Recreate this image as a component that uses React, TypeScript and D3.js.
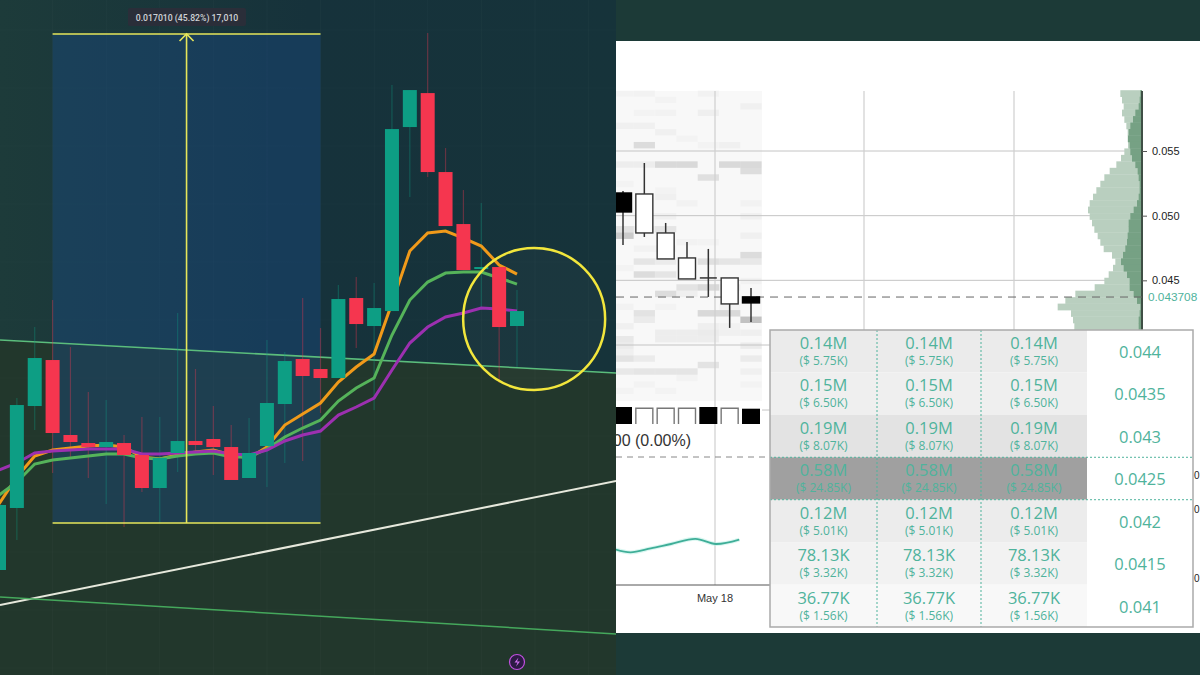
import React, { useEffect, useRef } from 'react';
import * as d3 from 'd3';

// left chart, candle values
const opens = [0.035485,0.037642,0.041189,0.042789,0.040181,0.039902,0.039763,0.039902,0.039485,0.038337,0.039555,0.039972,0.040042,0.039763,0.038685,0.039798,0.041259,0.042824,0.042476,0.042163,0.044946,0.043972,0.044493,0.050893,0.052075,0.049328,0.047519,0.045954,0.046024,0.043972];
const closes = [0.037746,0.041224,0.042859,0.040250,0.039937,0.039763,0.039937,0.039485,0.038337,0.039381,0.039972,0.039833,0.039763,0.038616,0.039555,0.041294,0.042754,0.042233,0.042163,0.044911,0.044041,0.044598,0.050823,0.052180,0.049328,0.047450,0.045919,0.046024,0.043937,0.044493];
const highs = [0.038268,0.041468,0.043937,0.044876,0.043241,0.041676,0.041398,0.040181,0.040807,0.040807,0.044424,0.042476,0.041189,0.040528,0.040772,0.043485,0.043067,0.044946,0.043902,0.045398,0.045676,0.045467,0.052354,0.052180,0.054162,0.050163,0.048702,0.048250,0.046024,0.045224];
const lows = [0.035451,0.036529,0.040355,0.038859,0.039416,0.038685,0.037781,0.036981,0.038198,0.037120,0.038894,0.039555,0.038789,0.038616,0.038685,0.038372,0.039207,0.039276,0.040946,0.042163,0.043207,0.041050,0.044493,0.048458,0.049154,0.047450,0.045919,0.044528,0.041989,0.042546];
const emaOrange = [0.037781,0.038720,0.039450,0.039659,0.039729,0.039798,0.039833,0.039763,0.039416,0.039346,0.039485,0.039589,0.039659,0.039485,0.039381,0.039763,0.040528,0.040911,0.041294,0.042024,0.042546,0.042998,0.044772,0.046580,0.047206,0.047276,0.047032,0.046754,0.046093,0.045780];
const emaGreen = [0.038094,0.038546,0.039172,0.039311,0.039381,0.039450,0.039520,0.039520,0.039381,0.039346,0.039450,0.039520,0.039555,0.039416,0.039416,0.039694,0.040111,0.040424,0.040702,0.041363,0.041815,0.042163,0.043659,0.044876,0.045502,0.045815,0.045850,0.045850,0.045641,0.045432];
const emaPurple = [0.038963,0.039207,0.039555,0.039624,0.039659,0.039694,0.039694,0.039694,0.039520,0.039520,0.039555,0.039589,0.039624,0.039520,0.039485,0.039659,0.039972,0.040181,0.040320,0.040876,0.041155,0.041468,0.042441,0.043380,0.043937,0.044285,0.044424,0.044598,0.044563,0.044493];

// drawn annotations, [candle index, price]
const trendChannel = [[0.056,0.043485],[34.55,0.042337]];
const trendWhite = [[0.056,0.034268],[34.55,0.038581]];
const trendLower = [[0.056,0.034546],[34.55,0.033260]];
const measureFrom = [3,0.03712];
const measureTo = [18,0.05413];
const measureLabel = '0.017010 (45.82%) 17,010';
const circleAt = [29.96,0.044215];

// right chart
const rOpens = [0.051754,0.048663,0.046654,0.045108,0.045185,0.043176,0.043253];
const rCloses = [0.050286,0.051677,0.048663,0.046731,0.045185,0.045185,0.043717];
const rHighs = [0.051909,0.054073,0.049436,0.047968,0.047427,0.045185,0.044413];
const rLows = [0.047736,0.048354,0.046654,0.045108,0.043717,0.041321,0.041785];
const rVolumes = [1,0.93,0.93,0.93,1,0.93,0.9];
const rDown = [true,false,false,false,true,false,true];
const oscillator = [0.2,-0.6,0.4,1.5,2.8,1.5,2.6];
const oscillatorPos = [-0.4,0.35,1.3,2.25,3.4,4.35,5.45];
const gridPrices = [0.055,0.05,0.045,0.04];
const axisTicks = [0.055,0.05,0.045];
const lastPrice = 0.043708;
const profileTotal = [65,60,55,60,53,47,43,43,42,53,63,77,97,113,125,137,147,157,162,157,150,143,133,125,115,90,80,87,100,113,142,200,230,253,213,207,203,203];
const profileBuy = [5,7,10,20,27,35,40,42,37,35,30,20,13,10,7,7,10,15,25,35,40,40,43,45,50,57,63,55,45,37,37,25,15,5,7,10,10,10];
// [column, row, shade]
const heatCells: number[][] = [
[1,8,.18],[0,11,.07],[1,11,.07],[2,11,.2],[3,11,.2],[5,11,.2],[6,11,.2],[6,12,.17],[4,13,.15],[0,21,.14],[0,22,.3],[1,21,.07],[2,21,.12],
[1,26,.12],[2,26,.08],[4,26,.15],[5,26,.12],[6,25,.18],[6,26,.1],[1,28,.18],[2,28,.12],[3,30,.13],[4,30,.2],[5,30,.07],[2,31,.18],[3,31,.06],
[4,34,.2],[5,34,.2],[1,34,.13],[6,35,.35],[1,35,.08],[0,38,.1],[2,37,.07],[3,37,.07],[4,37,.08],[5,37,.05],[2,38,.07],[3,38,.07],[4,38,.07],[0,39,.08],[0,40,.05],
[0,41,.13],[1,41,.08],[6,41,.08],[0,43,.1],[1,43,.12],[2,43,.12],[3,43,.12],[4,42,.13],[6,43,.05],[6,39,.08],[6,37,.06],
[0,0,.03],[1,0,.04],[2,1,.03],[4,0,.04],[6,2,.05],[1,3,.03],[2,3,.04],[4,3,.06],[0,5,.05],[1,5,.05],[2,6,.05],[5,8,.05],[4,8,.03],[3,7,.03],
[0,14,.03],[2,16,.05],[2,15,.03],[3,17,.04],[6,17,.04],[6,19,.05],[1,19,.04],[2,19,.05],[6,22,.05],[3,23,.04],[4,23,.03],[1,24,.04],[2,24,.04],[0,27,.03],[6,29,.04],[5,33,.03],[2,33,.03],[0,33,.04],[4,36,.06],[5,36,.04],[0,36,.05],[3,44,.03],[1,45,.03],[6,45,.03],[2,46,.03],[0,46,.03]
];

// order book table
const tableQty = ['0.14M','0.15M','0.19M','0.58M','0.12M','78.13K','36.77K'];
const tableUsd = ['($ 5.75K)','($ 6.50K)','($ 8.07K)','($ 24.85K)','($ 5.01K)','($ 3.32K)','($ 1.56K)'];
const tablePrices = ['0.044','0.0435','0.043','0.0425','0.042','0.0415','0.041'];
const tableShade = ['#ebebeb','#efefef','#e3e3e3','#a0a0a0','#ececec','#f2f2f2','#f8f8f8'];
const tableCols = [0,1,2];
const hiddenLabels = ['0','0','0,'];

const TEAL = '#0d9e84';
const RED = '#f5364f';
const TABLE_TEXT = '#4fb39c';

export default function App() {
  const axisRef = useRef<SVGGElement | null>(null);

  const x = d3.scaleLinear().domain([0, 29]).range([-1, 517]);
  const y = d3.scaleLinear().domain([0.03712, 0.05413]).range([523, 34]);
  const bodyW = 14;

  const xR = d3.scaleLinear().domain([0, 6]).range([623, 751]);
  const yR = d3.scaleLinear().domain([0.055, 0.04]).range([151, 345]);
  const volY = d3.scaleLinear().domain([0, 1]).range([424, 407]);
  const oscY = d3.scaleLinear().domain([-1, 3]).range([554, 538]);
  const profW = d3.scaleLinear().domain([0, 300]).range([0, 100]);
  const rowTop = (i: number) => yR(0.0597 - i * 0.0005);
  const rowH = yR(0.0405) - yR(0.041);
  const cellW = 21.3;

  const ema = d3.line<number>().x((_, i) => x(i)).y(d => y(d));
  const trend = (pts: number[][]) => d3.line<number[]>().x(d => x(d[0])).y(d => y(d[1]))(pts) || '';
  const oscLine = d3.line<number>().x((_, i) => xR(oscillatorPos[i])).y(d => oscY(d)).curve(d3.curveCatmullRom);

  const channelAt = (pts: number[][]) => `${trend(pts)}L616,675L0,675Z`;

  const rowsT = d3.scaleBand<number>().domain(d3.range(7)).range([330, 627]);
  const colEdges = [770, 877, 981, 1087, 1193];

  useEffect(() => {
    const g = d3.select(axisRef.current);
    g.call(d3.axisRight(yR).tickValues(axisTicks).tickFormat(d3.format('.3f')).tickSize(5).tickPadding(5) as any);
    g.select('.domain').remove();
    g.selectAll('line').attr('stroke', '#555');
    g.selectAll('text').attr('fill', '#222').attr('font-size', 11).attr('font-family', 'Liberation Sans, Arial, sans-serif');
  }, []);

  return (
    <svg width={1200} height={675} style={{ position: 'fixed', left: 0, top: 0, display: 'block' }}>
      <defs>
        <linearGradient id="bgTop" x1="0" y1="0" x2="1" y2="0">
          <stop offset="0" stopColor="#1d3b3a" />
          <stop offset="0.5" stopColor="#16323b" />
          <stop offset="1" stopColor="#16333a" />
        </linearGradient>
        <clipPath id="leftClip"><rect x={0} y={0} width={616} height={675} /></clipPath>
        <clipPath id="rightClip"><rect x={616} y={41} width={584} height={592} /></clipPath>
      </defs>
      <rect width={1200} height={675} fill="#1c3a37" />

      {/* left chart */}
      <g clipPath="url(#leftClip)">
        <rect width={616} height={675} fill="url(#bgTop)" />
        <path d={channelAt(trendChannel)} fill="#22372c" />
        {d3.range(0, 12).map(i => (
          <line key={i} x1={-1 + i * 53.6} x2={-1 + i * 53.6} y1={0} y2={675} stroke="#fff" strokeOpacity={0.025} />
        ))}
        {d3.range(0, 12).map(i => (
          <line key={i} x1={0} x2={616} y1={30 + i * 58} y2={30 + i * 58} stroke="#fff" strokeOpacity={0.02} />
        ))}
        <rect x={x(measureFrom[0])} y={y(measureTo[1])} width={x(measureTo[0]) - x(measureFrom[0])} height={y(measureFrom[1]) - y(measureTo[1])} fill="rgb(25,78,145)" fillOpacity={0.36} />
        <circle cx={x(circleAt[0])} cy={y(circleAt[1])} r={71} fill="#fff" fillOpacity={0.025} />

        <path d={trend(trendWhite)} stroke="#e6e8dc" strokeWidth={2} fill="none" />
        <path d={trend(trendLower)} stroke="#45a85c" strokeWidth={1.5} fill="none" />
        <path d={trend(trendChannel)} stroke="#5bbd7c" strokeWidth={1.5} fill="none" />

        {opens.map((o, i) => {
          const c = closes[i];
          const col = c >= o ? TEAL : RED;
          return (
            <line key={i} x1={x(i)} x2={x(i)} y1={y(highs[i])} y2={y(lows[i])} stroke={col} strokeOpacity={0.35} strokeWidth={1.2} />
          );
        })}
        <path d={ema(emaOrange) || ''} fill="none" stroke="#f09a1a" strokeWidth={3} />
        <path d={ema(emaGreen) || ''} fill="none" stroke="#55b35a" strokeWidth={3} />
        <path d={ema(emaPurple) || ''} fill="none" stroke="#9c30b0" strokeWidth={3} />
        {opens.map((o, i) => {
          const c = closes[i];
          const top = y(Math.max(o, c));
          return (
            <rect key={i} x={x(i) - bodyW / 2} y={top} width={bodyW} height={Math.max(1, y(Math.min(o, c)) - top)} fill={c >= o ? TEAL : RED} />
          );
        })}

        {/* measure tool */}
        <g stroke="#e6e65a" strokeWidth={1.6} fill="none">
          <line x1={x(measureFrom[0])} x2={x(measureTo[0])} y1={y(measureTo[1])} y2={y(measureTo[1])} />
          <line x1={x(measureFrom[0])} x2={x(measureTo[0])} y1={y(measureFrom[1])} y2={y(measureFrom[1])} />
          <line x1={x(10.5)} x2={x(10.5)} y1={y(measureTo[1])} y2={y(measureFrom[1])} />
          <path d={`M${x(10.5) - 7},${y(measureTo[1]) + 7}L${x(10.5)},${y(measureTo[1])}L${x(10.5) + 7},${y(measureTo[1]) + 7}`} />
        </g>
        <rect x={128} y={8} width={118} height={18} rx={2} fill="#2a2e39" />
        <text x={187} y={20.5} textAnchor="middle" fontSize={8.7} fontWeight={500} fill="#cfd2d6" fontFamily="Roboto, sans-serif">{measureLabel}</text>

        <circle cx={x(circleAt[0])} cy={y(circleAt[1])} r={71} fill="none" stroke="#f2e63c" strokeWidth={2.5} />

        <circle cx={517} cy={662} r={7.5} fill="#2c1a44" stroke="#c04fe0" strokeWidth={1.2} />
        <path d="M518.5,657.5l-4,5h3l-1.5,4l4,-5h-3z" fill="#d070f0" />
      </g>

      {/* right panel */}
      <rect x={616} y={41} width={584} height={592} fill="#fff" />
      <g clipPath="url(#rightClip)">
        <rect x={616} y={91} width={146} height={310} fill="#f8f8f8" />
        {heatCells.map((c, i) => (
          <rect key={i} x={xR(c[0]) - cellW / 2} y={rowTop(c[1])} width={cellW} height={rowH} fill="#000" fillOpacity={c[2] * 0.62} />
        ))}
        {gridPrices.map(t => (
          <line key={t} x1={616} x2={1142} y1={yR(t)} y2={yR(t)} stroke="#c4c4c4" strokeWidth={1} />
        ))}
        <line x1={715} x2={715} y1={91} y2={585} stroke="#cfcfcf" strokeWidth={1.2} />
        <line x1={864} x2={864} y1={91} y2={345} stroke="#cfcfcf" strokeWidth={1.2} />
        <line x1={1014} x2={1014} y1={91} y2={345} stroke="#cfcfcf" strokeWidth={1.2} />
        <line x1={762} x2={770} y1={410} y2={410} stroke="#c4c4c4" />

        {/* depth profile */}
        {profileTotal.map((v, i) => (
          <rect key={i} x={1142 - profW(v)} y={rowTop(i)} width={profW(v)} height={rowH + 0.3} fill="#b9cfbf" />
        ))}
        {profileBuy.map((v, i) => (
          <rect key={i} x={1142 - profW(v)} y={rowTop(i)} width={profW(v)} height={rowH + 0.3} fill="#76a184" />
        ))}
        <line x1={1142} x2={1142} y1={91} y2={330} stroke="#3f4f45" strokeWidth={2} />
        <g ref={axisRef} transform="translate(1142,0)" />

        <line x1={616} x2={1142} y1={yR(lastPrice)} y2={yR(lastPrice)} stroke="#666" strokeDasharray="8 6" />
        <text x={1148} y={yR(lastPrice) + 4} fontSize={11.8} fill={TABLE_TEXT} fontFamily="Liberation Sans, Arial, sans-serif">{lastPrice}</text>

        {/* candles */}
        {rOpens.map((o, i) => (
          <line key={i} x1={xR(i)} x2={xR(i)} y1={yR(rHighs[i])} y2={yR(rLows[i])} stroke="#333" strokeWidth={1.5} />
        ))}
        {rOpens.map((o, i) => {
          const top = yR(Math.max(o, rCloses[i]));
          const h = yR(Math.min(o, rCloses[i])) - top;
          if (i === 4) return <line key={i} x1={xR(i) - 8.5} x2={xR(i) + 8.5} y1={top} y2={top} stroke="#333" strokeWidth={1.5} />;
          return <rect key={i} x={xR(i) - 8.5} y={top} width={17} height={h} fill={rDown[i] ? '#000' : '#fff'} stroke={rDown[i] ? '#000' : '#333'} strokeWidth={1.4} />;
        })}

        {/* volume */}
        {rVolumes.map((v, i) =>
          rDown[i] ? (
            <rect key={i} x={xR(i) - 9} y={volY(v)} width={18} height={volY(0) - volY(v)} fill="#000" />
          ) : (
            <path key={i} d={`M${xR(i) - 8.5},${volY(0)}V${volY(v)}H${xR(i) + 8.5}V${volY(0)}`} fill="#fff" stroke="#777" strokeWidth={1.4} />
          )
        )}
        <text x={691} y={445.5} textAnchor="end" fontSize={16} fill="#333" fontFamily="Liberation Sans, Arial, sans-serif">0.00 (0.00%)</text>
        <line x1={616} x2={770} y1={457} y2={457} stroke="#888" strokeDasharray="6 5" />

        <path d={oscLine(oscillator) || ''} fill="none" stroke="#b5efe4" strokeWidth={4} strokeOpacity={0.5} />
        <path d={oscLine(oscillator) || ''} fill="none" stroke="#3fae98" strokeWidth={1.8} />
        <line x1={616} x2={770} y1={585} y2={585} stroke="#555" strokeWidth={1} />
        <text x={715} y={602} textAnchor="middle" fontSize={11} fill="#333" fontFamily="Liberation Sans, Arial, sans-serif">May 18</text>

        {/* order book */}
        <rect x={770} y={330} width={423} height={297} fill="#fff" />
        {tableQty.map((q, r) => {
          const top = rowsT(r) as number;
          const h = rowsT.bandwidth();
          return (
            <g key={r} fontFamily="Open Sans, sans-serif" textAnchor="middle" fill={TABLE_TEXT}>
              <rect x={colEdges[0]} y={top} width={colEdges[3] - colEdges[0]} height={h} fill={tableShade[r]} />
              {tableCols.map(c => {
                const cx = (colEdges[c] + colEdges[c + 1]) / 2;
                return (
                  <g key={c}>
                    <text x={cx} y={top + 19} fontSize={16.5}>{q}</text>
                    <text x={cx} y={top + 35} fontSize={12}>{tableUsd[r]}</text>
                  </g>
                );
              })}
              <text x={(colEdges[3] + colEdges[4]) / 2} y={top + 28} fontSize={16.5}>{tablePrices[r]}</text>
            </g>
          );
        })}
        {[1, 2].map(c => (
          <line key={c} x1={colEdges[c]} x2={colEdges[c]} y1={330} y2={627} stroke={TABLE_TEXT} strokeDasharray="2 2" />
        ))}
        {[3, 4].map(r => (
          <line key={r} x1={colEdges[0]} x2={colEdges[4]} y1={rowsT(r) as number} y2={rowsT(r) as number} stroke={TABLE_TEXT} strokeDasharray="2 2" />
        ))}
        <rect x={770} y={330} width={423} height={297} fill="none" stroke="#aaa" strokeWidth={1.5} />
        {[479, 513, 582].map((v, i) => (
          <text key={v} x={1194} y={v} fontSize={10} fill="#222" fontFamily="Liberation Sans, Arial, sans-serif">{hiddenLabels[i]}</text>
        ))}
      </g>
    </svg>
  );
}
